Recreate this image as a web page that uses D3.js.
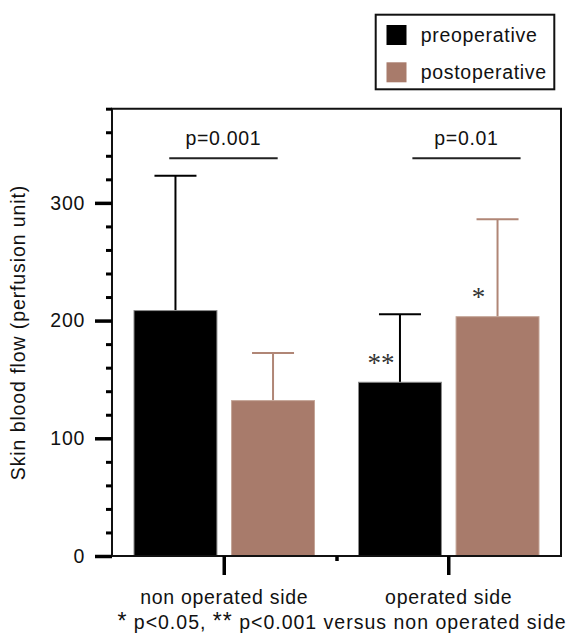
<!DOCTYPE html>
<html>
<head>
<meta charset="utf-8">
<script src="https://cdn.jsdelivr.net/npm/d3@7/dist/d3.min.js"></script>
<style>
  html, body { margin: 0; padding: 0; background: #fff; }
  svg text { font-family: "Liberation Sans", Arial, Helvetica, sans-serif; fill: #111; }
</style>
</head>
<body>
<svg id="chart" width="571" height="641"></svg>
<script>
// ---- data ----
const categories = ["non operated side", "operated side"];
const series = ["preoperative", "postoperative"];
const preMean = [208.5, 147.6];
const preSD = [114.5, 57.8];
const postMean = [132, 203.3];
const postSD = [40.5, 82.7];
const yMajorTicks = [0, 100, 200, 300];
const yMinorTicks = [20, 40, 60, 80, 120, 140, 160, 180, 220, 240, 260, 280, 320, 340, 360, 380];
const pLabels = ["p=0.001", "p=0.01"];
const sigMarks = [["", ""], ["**", "*"]]; // [category][series]
const footnote = "* p<0.05, ** p<0.001 versus non operated side";
const yTitle = "Skin blood flow (perfusion unit)";

const colors = { preoperative: "#000000", postoperative: "#a87b6b" };
const errColors = { preoperative: "#000000", postoperative: "#b08676" };
const edgeColors = { preoperative: "#8a8a8a", postoperative: "#c4a597" };

const svg = d3.select("#chart");
const L = 112, R = 561, T = 108.7, B = 556;
const FS = 19.5, LS = 0.7;

const x0 = d3.scaleBand().domain(categories).range([L, R]).padding(0);
const x1 = d3.scaleBand().domain(series).range([22, x0.bandwidth() - 22]).paddingInner(0.15);
const y = d3.scaleLinear().domain([0, 380]).range([B, T]);

const rows = categories.map((c, i) => ({
  cat: c,
  vals: [
    { s: "preoperative", m: preMean[i], sd: preSD[i], mark: sigMarks[i][0] },
    { s: "postoperative", m: postMean[i], sd: postSD[i], mark: sigMarks[i][1] }
  ]
}));

const g = svg.append("g");
const grp = g.selectAll("g.cat").data(rows).join("g")
  .attr("transform", d => `translate(${x0(d.cat)},0)`);

// error bars (upper only)
grp.selectAll("g.err").data(d => d.vals).join("g").each(function(d) {
  const cx = x1(d.s) + x1.bandwidth() / 2;
  const gg = d3.select(this);
  gg.append("line").attr("x1", cx).attr("x2", cx)
    .attr("y1", y(d.m)).attr("y2", y(d.m + d.sd))
    .attr("stroke", errColors[d.s]).attr("stroke-width", 2);
  gg.append("line").attr("x1", cx - 21).attr("x2", cx + 21)
    .attr("y1", y(d.m + d.sd)).attr("y2", y(d.m + d.sd))
    .attr("stroke", errColors[d.s]).attr("stroke-width", 2);
});

grp.selectAll("rect").data(d => d.vals).join("rect")
  .attr("x", d => x1(d.s))
  .attr("width", x1.bandwidth())
  .attr("y", d => y(d.m))
  .attr("height", d => y(0) - y(d.m))
  .attr("fill", d => colors[d.s])
  .attr("stroke", d => edgeColors[d.s])
  .attr("stroke-width", 1);

// significance marks
grp.selectAll("text.sig").data(d => d.vals.filter(v => v.mark)).join("text")
  .attr("x", d => x1(d.s) + x1.bandwidth() / 2 - 19)
  .attr("y", d => y(d.m) - 31)
  .attr("dy", "0.75em")
  .attr("text-anchor", "middle")
  .style("font-family", "'Liberation Serif', 'Times New Roman', serif")
  .style("font-size", "27px")
  .style("fill", "#333")
  .text(d => d.mark);

// p-value brackets
const pSpans = [[0.255, 0.738], [1.338, 1.820]]; // in band units
pLabels.forEach((lab, i) => {
  const xa = L + pSpans[i][0] * x0.bandwidth();
  const xb = L + pSpans[i][1] * x0.bandwidth();
  svg.append("line").attr("x1", xa).attr("x2", xb)
    .attr("y1", 158.3).attr("y2", 158.3)
    .attr("stroke", "#222").attr("stroke-width", 2);
  svg.append("text").attr("x", (xa + xb) / 2).attr("y", 145)
    .attr("text-anchor", "middle")
    .style("font-size", FS + "px").style("letter-spacing", LS + "px")
    .text(lab);
});

// frame
svg.append("path")
  .attr("d", `M${L},${B}L${L},${T}L${R},${T}L${R},${B}Z`)
  .attr("fill", "none").attr("stroke", "#111").attr("stroke-width", 2);

// y axis minor
const yMinor = svg.append("g").attr("transform", `translate(${L},0)`)
  .call(d3.axisLeft(y).tickValues(yMinorTicks).tickSize(6).tickFormat(""));
yMinor.select(".domain").remove();
yMinor.selectAll(".tick line").attr("stroke", "#000").attr("stroke-width", 3);

// y axis major
const yMajor = svg.append("g").attr("transform", `translate(${L},0)`)
  .call(d3.axisLeft(y).tickValues(yMajorTicks).tickSize(17).tickPadding(10));
yMajor.select(".domain").remove();
yMajor.selectAll(".tick line").attr("stroke", "#000").attr("stroke-width", 3.5);
yMajor.selectAll(".tick text")
  .style("font-size", FS + "px").style("letter-spacing", LS + "px")
  .style("font-family", "'Liberation Sans', Arial, sans-serif").attr("fill", "#111");

// x axis: major ticks at category centers
const xMajor = svg.append("g").attr("transform", `translate(0,${B})`)
  .call(d3.axisBottom(x0).tickSize(19).tickFormat(""));
xMajor.select(".domain").remove();
xMajor.selectAll(".tick line").attr("stroke", "#000").attr("stroke-width", 3.5);

// x minor tick at category boundary
const xMinorScale = d3.scaleLinear().domain([0, 2]).range([L, R]);
const xMinor = svg.append("g").attr("transform", `translate(0,${B})`)
  .call(d3.axisBottom(xMinorScale).tickValues([1]).tickSize(5).tickFormat(""));
xMinor.select(".domain").remove();
xMinor.selectAll(".tick line").attr("stroke", "#000").attr("stroke-width", 3.5);

// category labels
svg.selectAll("text.cat").data(categories).join("text")
  .attr("x", d => x0(d) + x0.bandwidth() / 2)
  .attr("y", 604)
  .attr("text-anchor", "middle")
  .style("font-size", FS + "px").style("letter-spacing", LS + "px")
  .text(d => d);

// footnote (asterisks slightly enlarged)
const fn = svg.append("text").attr("x", 342).attr("y", 629)
  .attr("text-anchor", "middle")
  .style("font-size", FS + "px").style("letter-spacing", "1.0px");
footnote.split(/(\*+)/).filter(p => p.length).forEach(part => {
  const t = fn.append("tspan").text(part);
  if (/^\*+$/.test(part)) t.style("font-size", "23px");
});

// y title
svg.append("text")
  .attr("transform", `translate(25,${(185 + 480) / 2}) rotate(-90)`)
  .attr("text-anchor", "middle")
  .style("font-size", FS + "px").style("letter-spacing", "0.9px")
  .text(yTitle);

// legend
const lg = svg.append("g");
lg.append("rect").attr("x", 375.7).attr("y", 14.7).attr("width", 178.6).attr("height", 74.6)
  .attr("fill", "#fff").attr("stroke", "#111").attr("stroke-width", 2);
series.forEach((s, i) => {
  const yy = 25 + i * 37.3;
  lg.append("rect").attr("x", 386.5).attr("y", yy).attr("width", 20).attr("height", 20)
    .attr("fill", colors[s]);
  lg.append("text").attr("x", 420.7).attr("y", yy + 16.5)
    .style("font-size", FS + "px").style("letter-spacing", "0.7px")
    .text(s);
});
</script>
</body>
</html>
